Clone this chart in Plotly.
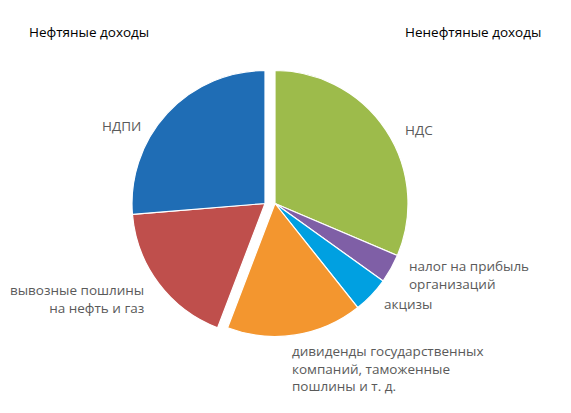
import plotly.graph_objects as go

labels = ['НДС', 'налог на прибыль организаций', 'акцизы',
          'дивиденды государственных компаний, таможенные пошлины и т. д.',
          'вывозные пошлины на нефть и газ', 'НДПИ']
values = [31.4, 3.5, 4.4, 16.5, 17.9, 26.3]
colors = ['#9dbb4b', '#7f5fa6', '#00a0e1', '#f3962f', '#bf4f4c', '#1f6db5']
oil = [False, False, False, False, True, True]

W, H = 571, 413
off = 8  # page body margin
cx, cy, r, shift = 270 - off, 203.5 - off, 133, 5


def dom(x0):
    return dict(x=[(x0 - r) / W, (x0 + r) / W],
                y=[1 - (cy + r) / H, 1 - (cy - r) / H])


fig = go.Figure()
for group, x0 in [(True, cx - shift), (False, cx + shift)]:
    cols = [c if o == group else 'rgba(0,0,0,0)' for c, o in zip(colors, oil)]
    lines = ['white' if o == group else 'rgba(0,0,0,0)' for o in oil]
    fig.add_trace(go.Pie(labels=labels, values=values, sort=False,
                         direction='clockwise', rotation=0,
                         marker=dict(colors=cols, line=dict(color=lines, width=1.2)),
                         textinfo='none', domain=dom(x0), showlegend=False))

grey = '#5a5a5a'
# text, x, y (middle), anchor, colour
ann = [
    ('Нефтяные доходы', 27, 32, 'left', 'black'),
    ('Ненефтяные доходы', 403, 32, 'left', 'black'),
    ('НДПИ', 143, 126, 'right', grey),
    ('НДС', 403, 130, 'left', grey),
    ('налог на прибыль<br>организаций', 407, 275, 'left', grey),
    ('акцизы', 382, 304, 'left', grey),
    ('вывозные пошлины<br>на нефть и газ', 146, 299, 'right', grey),
    ('дивиденды государственных<br>компаний, таможенные<br>пошлины и т. д.', 290, 368, 'left', grey),
]
for t, x, y, al, c in ann:
    fig.add_annotation(text=t, x=(x - off) / W, y=1 - (y - off) / H,
                       xref='paper', yref='paper',
                       xanchor=al, yanchor='middle', align=al, showarrow=False,
                       font=dict(family='Open Sans', size=13.5, color=c))

fig.update_layout(width=W, height=H, margin=dict(l=0, r=0, t=0, b=0),
                  paper_bgcolor='white', plot_bgcolor='white',
                  font=dict(family='Open Sans', size=13, color=grey))
fig.write_html("out.html")
